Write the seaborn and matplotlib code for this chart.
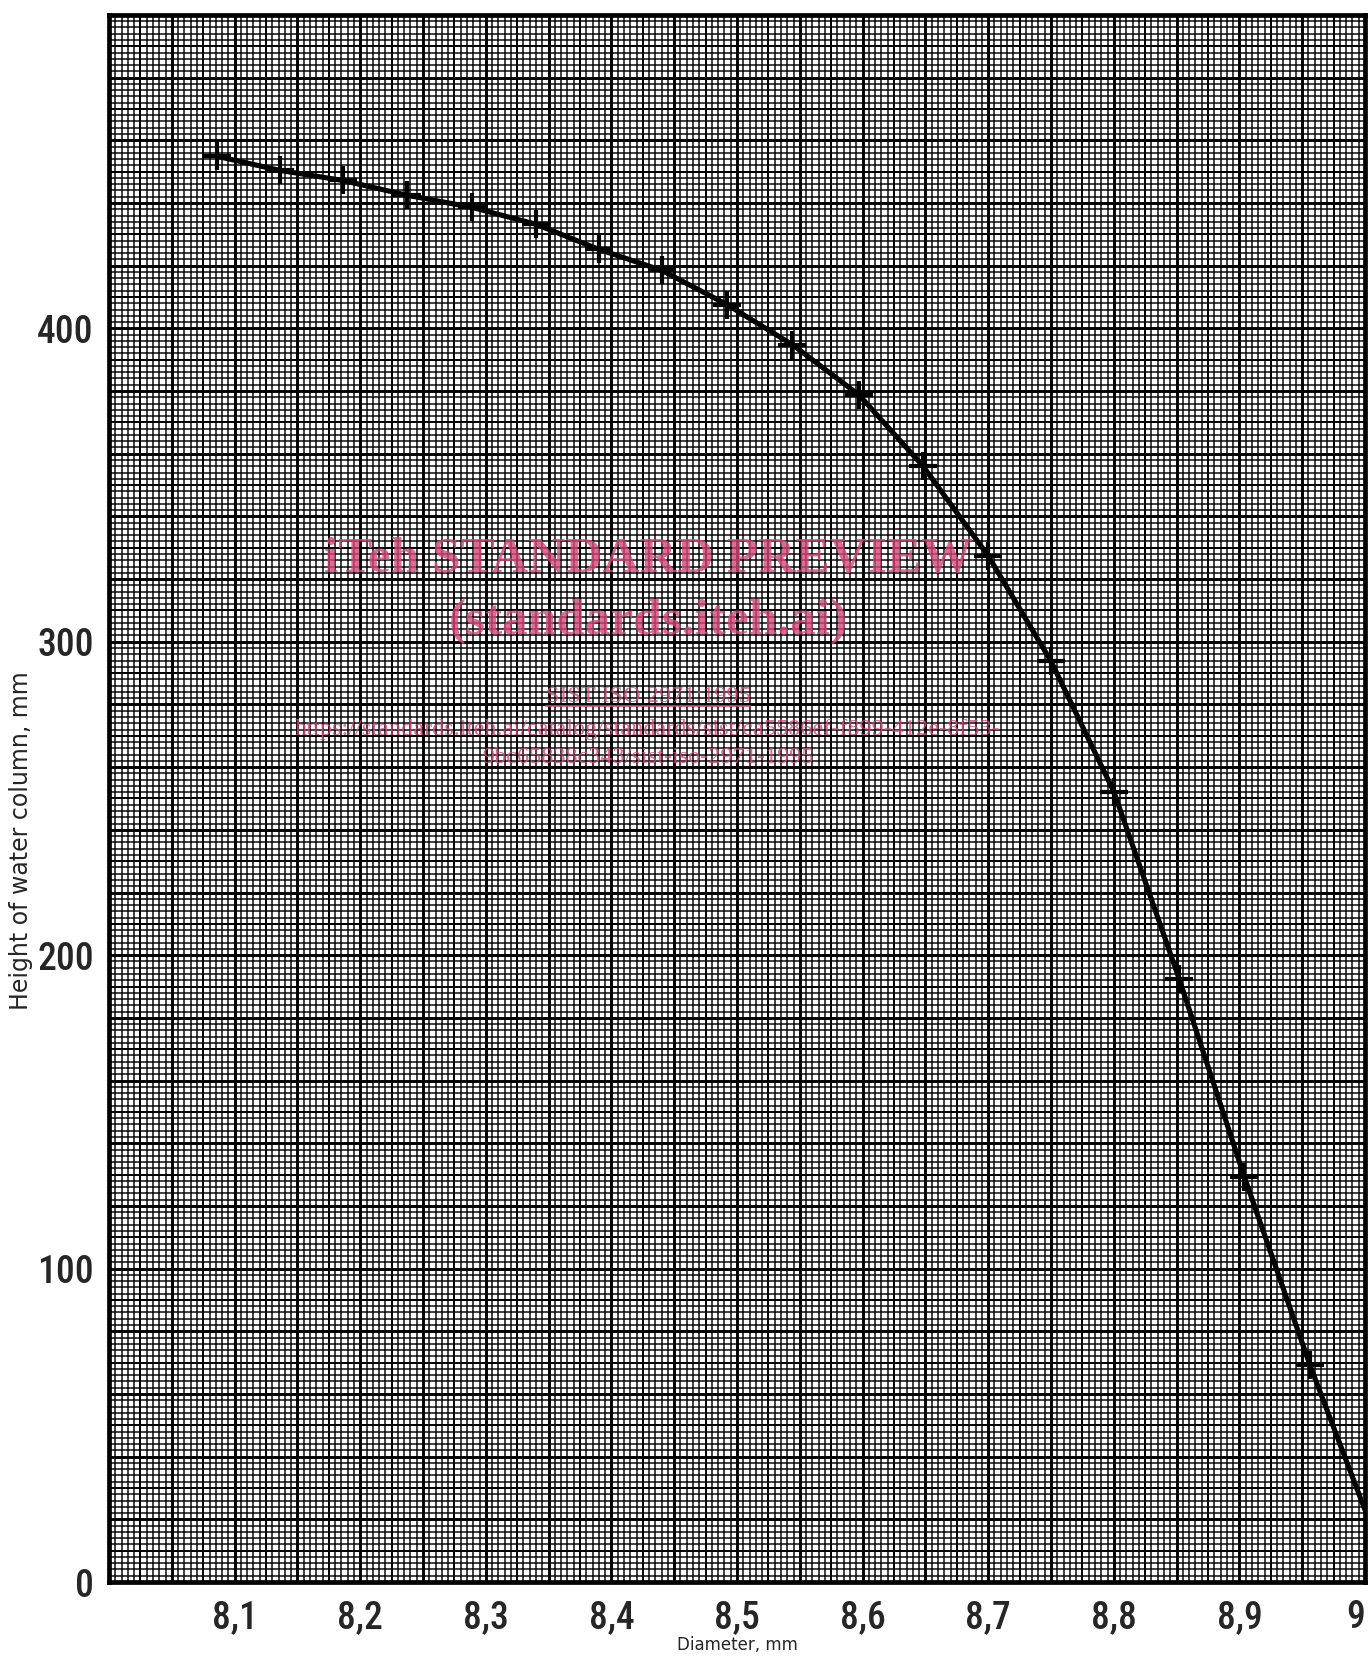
import numpy as np
import pandas as pd
import matplotlib
matplotlib.use("Agg")
import matplotlib.pyplot as plt
from matplotlib import font_manager
from matplotlib.ticker import MultipleLocator, FuncFormatter
import seaborn as sns

# ---------------- data ----------------
diameter = [8.086, 8.136, 8.186, 8.237, 8.289, 8.340, 8.390, 8.440, 8.492,
            8.544, 8.597, 8.648, 8.700, 8.750, 8.800, 8.852, 8.904, 8.956]
height = [454.9, 450.4, 447.2, 442.5, 438.6, 433.2, 425.2, 418.5, 407.6,
          394.8, 378.8, 356.1, 327.4, 293.8, 252.2, 192.5, 129.2, 69.4]
# the drawn curve continues past the last marker to the frame edge
curve_end_diameter = [9.0]
curve_end_height = [23.0]

x_tick_values = [8.1, 8.2, 8.3, 8.4, 8.5, 8.6, 8.7, 8.8, 8.9, 9.0]
x_tick_labels = ["8,1", "8,2", "8,3", "8,4", "8,5", "8,6", "8,7", "8,8", "8,9", "9"]
y_tick_values = [0, 100, 200, 300, 400]
y_tick_labels = ["0", "100", "200", "300", "400"]

x_label = "Diameter, mm"
y_label = "Height of water column, mm"

watermark_lines = [
    "iTeh STANDARD PREVIEW",
    "(standards.iteh.ai)",
    "SIST ISO 2971:1995",
    "https://standards.iteh.ai/catalog/standards/sist/ca5586ef-f899-412e-8f53-",
    "9bc65838c343/sist-iso-2971-1995",
]

# ---------------- style ----------------
sns.set_style("white")
available = {f.name for f in font_manager.fontManager.ttflist}


def pick(cands, default="DejaVu Sans"):
    for c in cands:
        if c in available:
            return c
    return default


tick_font = pick(["Liberation Sans Narrow", "Roboto Condensed", "Open Sans Condensed",
                  "Noto Sans Condensed", "Roboto"])
label_font = "DejaVu Sans"
serif_font = pick(["Liberation Serif", "Noto Serif", "DejaVu Serif"])
plt.rcParams["font.family"] = [label_font]

fig = plt.figure(figsize=(13.68, 16.59), dpi=100)
ax = fig.add_axes([0.0797, 0.0464, 0.9181, 0.9446])
ax.set_xlim(8.0, 9.0)
ax.set_ylim(0, 500)

# graph-paper grid: fine (1 mm), medium (5 mm), heavy (10 mm)
ax.xaxis.set_major_locator(MultipleLocator(0.05))
ax.xaxis.set_minor_locator(MultipleLocator(0.005))
ax.yaxis.set_major_locator(MultipleLocator(20))
ax.yaxis.set_minor_locator(MultipleLocator(2))
ax.grid(which="minor", color="black", lw=1.1, alpha=0.95)
ax.grid(which="major", color="black", lw=2.1)
ax.vlines(np.arange(8.025, 9.0, 0.05), 0, 1, transform=ax.get_xaxis_transform(),
          color="black", lw=1.4, zorder=0.6)
ax.hlines(np.arange(10, 500, 20), 0, 1, transform=ax.get_yaxis_transform(),
          color="black", lw=1.4, zorder=0.6)
ax.set_axisbelow(True)


def xfmt(v, pos):
    for tv, tl in zip(x_tick_values, x_tick_labels):
        if abs(v - tv) < 1e-6:
            return tl
    return ""


def yfmt(v, pos):
    for tv, tl in zip(y_tick_values, y_tick_labels):
        if abs(v - tv) < 1e-6:
            return tl
    return ""


ax.xaxis.set_major_formatter(FuncFormatter(xfmt))
ax.yaxis.set_major_formatter(FuncFormatter(yfmt))
ax.tick_params(which="both", length=0)
ax.tick_params(axis="x", which="major", pad=12, labelsize=27)
ax.tick_params(axis="y", which="major", pad=11, labelsize=27)
for lab in ax.get_xticklabels() + ax.get_yticklabels():
    lab.set_family([tick_font, "DejaVu Sans"])
    lab.set_fontweight("medium")

for s in ax.spines.values():
    s.set_visible(True)
    s.set_color("black")
    s.set_linewidth(3.4)

# ---------------- data marks ----------------
curve = pd.DataFrame({"d": diameter + curve_end_diameter,
                      "h": height + curve_end_height})
pts = pd.DataFrame({"d": diameter, "h": height})
sns.lineplot(data=curve, x="d", y="h", sort=False, color="black", lw=3.7, ax=ax,
             zorder=5)
sns.scatterplot(data=pts, x="d", y="h", marker="+", s=400, color="black",
                linewidth=3.0, ax=ax, zorder=6)

ax.set_xlabel(x_label, fontsize=12, family=label_font)
ax.set_ylabel(y_label, fontsize=17, family=label_font)
ax.xaxis.label.set_verticalalignment("center")
ax.yaxis.label.set_verticalalignment("center")
ax.xaxis.set_label_coords(0.5, -0.0405)
ax.yaxis.set_label_coords(-0.0700, 0.473)

# the last x label sits left of its gridline, at the frame edge
fig.canvas.draw()
for lab in ax.get_xticklabels():
    if lab.get_text() == x_tick_labels[-1]:
        lab.set_horizontalalignment("right")

# ---------------- watermark overlay ----------------
pink = "#d4477a"
tr = fig.transFigure
W, H = 1368.0, 1659.0
wm_x = 648 / W
fig.text(wm_x, 1 - 560 / H, watermark_lines[0], transform=tr, ha="center", va="center",
         color=pink, alpha=0.8, fontsize=37, family=serif_font, fontweight="bold", zorder=10)
fig.text(wm_x, 1 - 622 / H, watermark_lines[1], transform=tr, ha="center", va="center",
         color=pink, alpha=0.8, fontsize=37, family=serif_font, fontweight="bold", zorder=10)
t3 = fig.text(wm_x, 1 - 697 / H, watermark_lines[2], transform=tr, ha="center", va="center",
              color=pink, alpha=0.8, fontsize=17.5, family=serif_font, zorder=10)
fig.text(wm_x, 1 - 730 / H, watermark_lines[3], transform=tr, ha="center", va="center",
         color=pink, alpha=0.8, fontsize=17.5, family=serif_font, zorder=10)
fig.text(wm_x, 1 - 758 / H, watermark_lines[4], transform=tr, ha="center", va="center",
         color=pink, alpha=0.8, fontsize=17.5, family=serif_font, zorder=10)
fig.canvas.draw()
bb = t3.get_window_extent().transformed(tr.inverted())
fig.add_artist(plt.Line2D([bb.x0, bb.x1], [bb.y0 + 0.001, bb.y0 + 0.001], transform=tr,
                          color=pink, alpha=0.8, lw=1.5, zorder=10))

fig.savefig("out.png", dpi=100, facecolor="white")
